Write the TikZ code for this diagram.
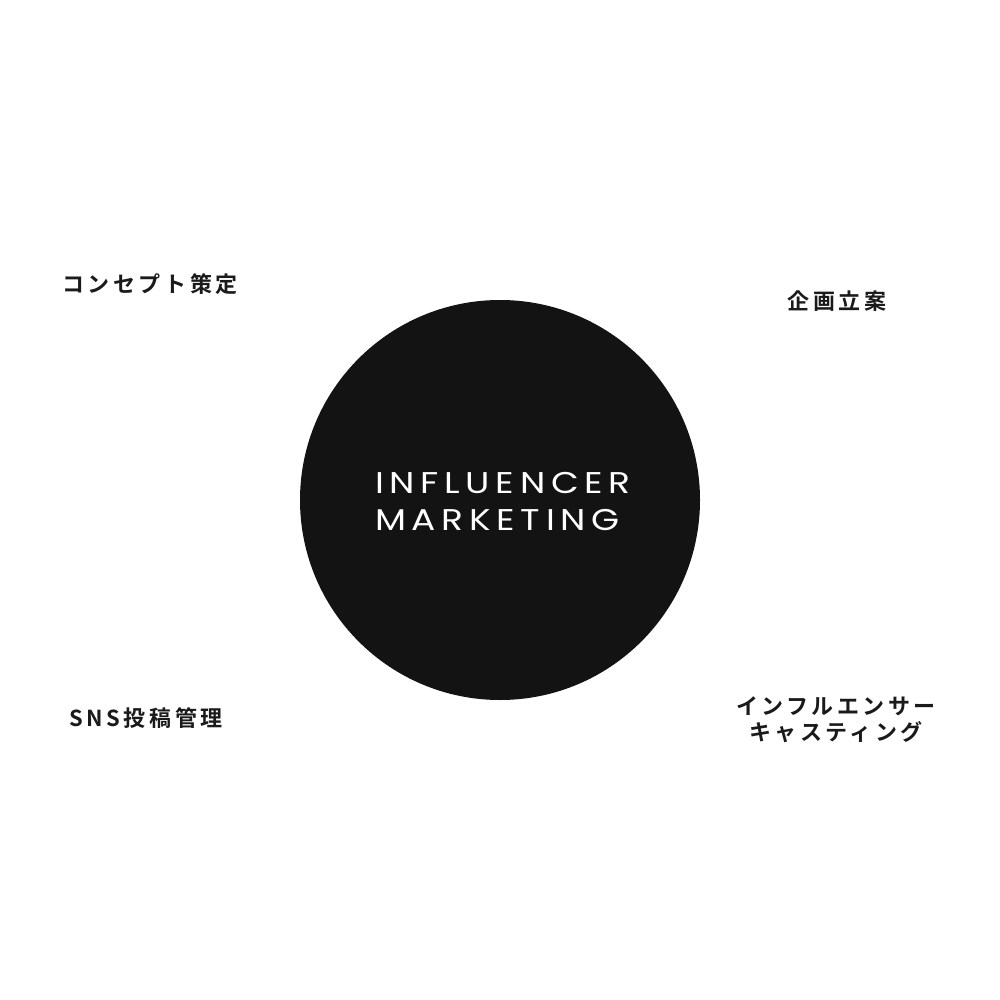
\documentclass[tikz,border=0pt]{standalone}
\usepackage{fontspec}
\usepackage{xcolor}
\usetikzlibrary{positioning}
\newfontfamily\jpbold[LetterSpace=16]{Noto Sans CJK JP Bold}
\newfontfamily\widesans[LetterSpace=19, FakeStretch=1.2]{Poppins}
\definecolor{ink}{HTML}{131313}
\definecolor{textblack}{HTML}{1A1A1A}
\tikzset{
    step label/.style={font=\jpbold\fontsize{22}{26}\selectfont, text=textblack, align=center, inner sep=0pt},
    core/.style={circle, fill=ink, minimum size=400pt, inner sep=0pt}
}

\begin{document}
\begin{tikzpicture}[x=1pt, y=-1pt]
    \useasboundingbox (0, 0) rectangle (1000, 1000);
    % centre circle
    \node[core] (hub) at (500, 500) {};
    \node[font=\widesans\fontsize{30}{37}\selectfont, text=white, align=left, inner sep=0pt] (title) at (503, 501) {INFLUENCER\\MARKETING};
    % four steps
    \node[step label] (concept) at (150, 284) {コンセプト策定};
    \node[step label] (plan) at (837, 301) {企画立案};
    \node[step label] (posting) at (146, 718) {SNS投稿管理};
    \node[step label] (casting) at (836, 720) {インフルエンサー\\キャスティング};
\end{tikzpicture}
\end{document}
